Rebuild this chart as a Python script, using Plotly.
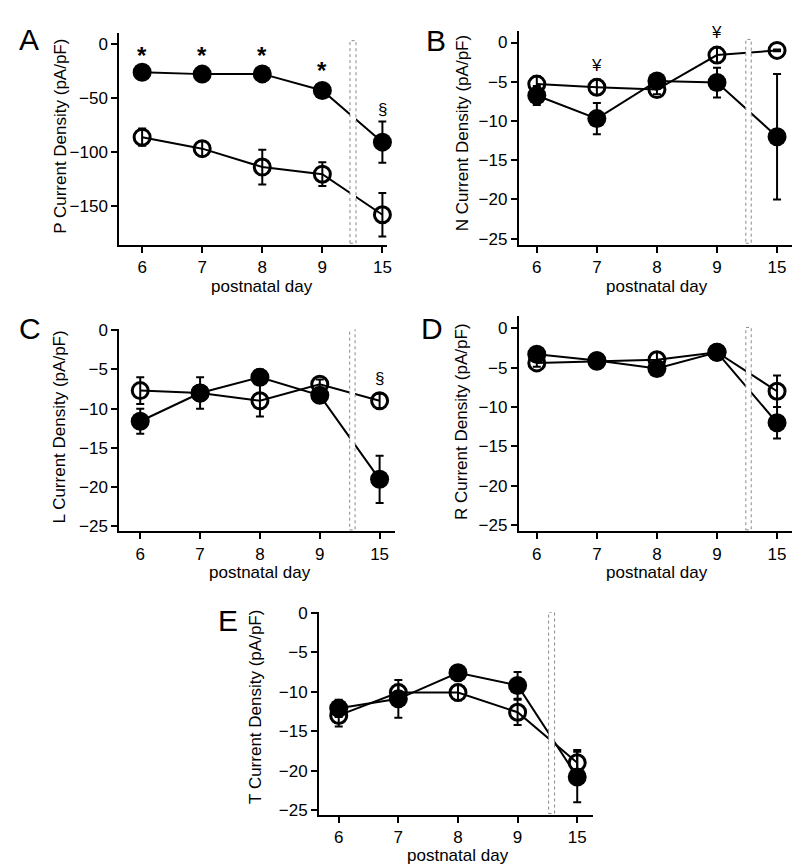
import plotly.graph_objects as go

# ---------------- data ----------------
days = ["6", "7", "8", "9", "15"]
pos = [0, 1, 2, 3, 4]

# Panel A: P-type
A_filled = [-26.4, -28.2, -28.0, -43.3, -91.0]
A_filled_err = [2.0, 2.0, 2.0, 2.0, 19.0]
A_open = [-86.4, -97.0, -114.0, -120.6, -158.0]
A_open_err = [8.0, 7.0, 16.0, 11.0, 20.0]

# Panel B: N-type
B_filled = [-6.75, -9.7, -4.9, -5.1, -12.0]
B_filled_err = [1.2, 2.0, 0.5, 1.9, 8.0]
B_open = [-5.3, -5.7, -6.0, -1.6, -1.0]
B_open_err = [1.0, 1.0, 0.6, 1.0, 0.1]

# Panel C: L-type
C_filled = [-11.6, -8.0, -6.0, -8.3, -19.0]
C_filled_err = [1.6, 2.0, 1.0, 0.5, 3.0]
C_open = [-7.7, -8.0, -9.0, -6.9, -9.0]
C_open_err = [1.7, 0.8, 2.0, 0.6, 0.9]

# Panel D: R-type
D_filled = [-3.3, -4.1, -5.1, -3.05, -12.0]
D_filled_err = [0.5, 0.4, 0.5, 0.3, 2.0]
D_open = [-4.4, -4.2, -4.0, -3.05, -8.0]
D_open_err = [0.5, 0.4, 1.0, 0.3, 2.0]

# Panel E: T-type
E_filled = [-12.1, -10.9, -7.6, -9.2, -20.8]
E_filled_err = [1.1, 2.4, 0.5, 1.7, 3.2]
E_open = [-13.0, -10.1, -10.1, -12.6, -19.0]
E_open_err = [1.4, 1.0, 1.0, 1.6, 1.6]

# significance marks: (x position, y value, text)
A_marks = [(0, -11, "*"), (1, -11, "*"), (2, -11, "*"), (3, -25, "*"), (4, -61, "§")]
B_marks = [(1, -2.9, "¥"), (3, 1.3, "¥")]
C_marks = [(4, -6.2, "§")]

y_titles = ["P Current Density (pA/pF)", "N Current Density (pA/pF)",
            "L Current Density (pA/pF)", "R Current Density (pA/pF)",
            "T Current Density (pA/pF)"]
letters = ["A", "B", "C", "D", "E"]

# ---------------- layout helpers ----------------
W, H = 800, 865
FONT = "Liberation Sans, Arial, sans-serif"


def px_x(p):
    return p / W


def px_y(p):
    return 1 - p / H


panels = [
    dict(filled=A_filled, ferr=A_filled_err, opn=A_open, oerr=A_open_err,
         xd=(112, 381), yd=(17, 232), xr=[-0.38, 4.07], yr=[-185.5, 10],
         yt=[0, -50, -100, -150], box=(3.46, 3.56, 2.7),
         ytitle=(52, 122), xtitle=(275, "middle"), letter=(21, 24)),
    dict(filled=B_filled, ferr=B_filled_err, opn=B_open, oerr=B_open_err,
         xd=(514, 789), yd=(15, 232), xr=[-0.30, 4.25], yr=[-25.75, 1.5],
         yt=[0, -5, -10, -15, -20, -25], box=(3.48, 3.57, 0.4),
         ytitle=(457, 119), xtitle=(275, "middle"), letter=(431, 25)),
    dict(filled=C_filled, ferr=C_filled_err, opn=C_open, oerr=C_open_err,
         xd=(112, 389), yd=(318, 523), xr=[-0.35, 4.25], yr=[-25.6, 0.12],
         yt=[0, -5, -10, -15, -20, -25], box=(3.50, 3.59, 0.25),
         ytitle=(52, 417), xtitle=(565, "middle"), letter=(22, 317)),
    dict(filled=D_filled, ferr=D_filled_err, opn=D_open, oerr=D_open_err,
         xd=(514, 789), yd=(305, 523), xr=[-0.30, 4.25], yr=[-25.75, 1.5],
         yt=[0, -5, -10, -15, -20, -25], box=(3.48, 3.57, 0.1),
         ytitle=(457, 412), xtitle=(565, "middle"), letter=(427, 317)),
    dict(filled=E_filled, ferr=E_filled_err, opn=E_open, oerr=E_open_err,
         xd=(313, 589), yd=(605, 811), xr=[-0.33, 4.27], yr=[-25.6, 0.12],
         yt=[0, -5, -10, -15, -20, -25], box=(3.52, 3.62, 0.1),
         ytitle=(249, 701), xtitle=(864, "bottom"), letter=(221, 614)),
]

fig = go.Figure()
layout = dict(width=W, height=H, margin=dict(l=0, r=0, t=0, b=0),
              paper_bgcolor="white", plot_bgcolor="white", showlegend=False,
              font=dict(family=FONT, size=17, color="black"))
annotations = []
shapes = []

for i, p in enumerate(panels):
    k = "" if i == 0 else str(i + 1)
    xa, ya = "x" + k, "y" + k
    err_f = dict(type="data", array=p["ferr"], visible=True, color="black",
                 thickness=2, width=4)
    err_o = dict(type="data", array=p["oerr"], visible=True, color="black",
                 thickness=2, width=4)
    fig.add_trace(go.Scatter(x=pos, y=p["filled"], mode="lines+markers",
                             xaxis=xa, yaxis=ya, error_y=err_f,
                             line=dict(color="black", width=2),
                             marker=dict(symbol="circle", size=19, color="black"),
                             cliponaxis=False))
    fig.add_trace(go.Scatter(x=pos, y=p["opn"], mode="lines+markers",
                             xaxis=xa, yaxis=ya, error_y=err_o,
                             line=dict(color="black", width=2),
                             marker=dict(symbol="circle-open", size=16, color="black",
                                         line=dict(width=3, color="black")),
                             cliponaxis=False))
    layout["xaxis" + k] = dict(
        domain=[px_x(p["xd"][0]), px_x(p["xd"][1])], range=p["xr"], anchor=ya,
        tickmode="array", tickvals=pos, ticktext=days, ticks="outside",
        ticklen=6, tickwidth=2, tickcolor="black", showline=True, linecolor="black",
        linewidth=2, showgrid=False, zeroline=False,
        tickfont=dict(family=FONT, size=17, color="black"), fixedrange=True)
    layout["yaxis" + k] = dict(
        domain=[px_y(p["yd"][1]), px_y(p["yd"][0])], range=p["yr"], anchor=xa,
        tickmode="array", tickvals=p["yt"], ticks="outside",
        ticklen=6, tickwidth=2, tickcolor="black", showline=True, linecolor="black",
        linewidth=2, showgrid=False, zeroline=False,
        tickfont=dict(family=FONT, size=17, color="black"), fixedrange=True)
    # break box between day 9 and day 15
    bx0, bx1, btop = p["box"]
    span = p["yr"][1] - p["yr"][0]
    shapes.append(dict(type="rect", xref=xa, yref=ya, x0=bx0, x1=bx1,
                       y0=p["yr"][0] + span * 0.006, y1=btop,
                       fillcolor="white", line=dict(color="#888", width=1, dash="dot"),
                       layer="above"))
    annotations.append(dict(text=y_titles[i], xref="paper", yref="paper",
                            x=px_x(p["ytitle"][0]), y=px_y(p["ytitle"][1]),
                            textangle=-90, showarrow=False,
                            font=dict(family=FONT, size=17, color="black"),
                            xanchor="center", yanchor="middle"))
    annotations.append(dict(text="postnatal day", xref=xa, yref="paper",
                            x=2, y=px_y(p["xtitle"][0]), showarrow=False,
                            font=dict(family=FONT, size=17, color="black"),
                            xanchor="center", yanchor=p["xtitle"][1]))
    annotations.append(dict(text=letters[i], xref="paper", yref="paper",
                            x=px_x(p["letter"][0]), y=px_y(p["letter"][1]),
                            showarrow=False,
                            font=dict(family=FONT, size=30, color="black"),
                            xanchor="center", yanchor="middle"))

for marks, k in [(A_marks, ""), (B_marks, "2"), (C_marks, "3")]:
    for xpos, yv, txt in marks:
        size = 24 if txt == "*" else 17
        annotations.append(dict(text=("<b>*</b>" if txt == "*" else txt),
                                xref="x" + k, yref="y" + k, x=xpos, y=yv,
                                showarrow=False,
                                font=dict(family=FONT, size=size, color="black"),
                                xanchor="center", yanchor="middle"))

layout["annotations"] = annotations
layout["shapes"] = shapes
fig.update_layout(**layout)
fig.write_html("out.html")
